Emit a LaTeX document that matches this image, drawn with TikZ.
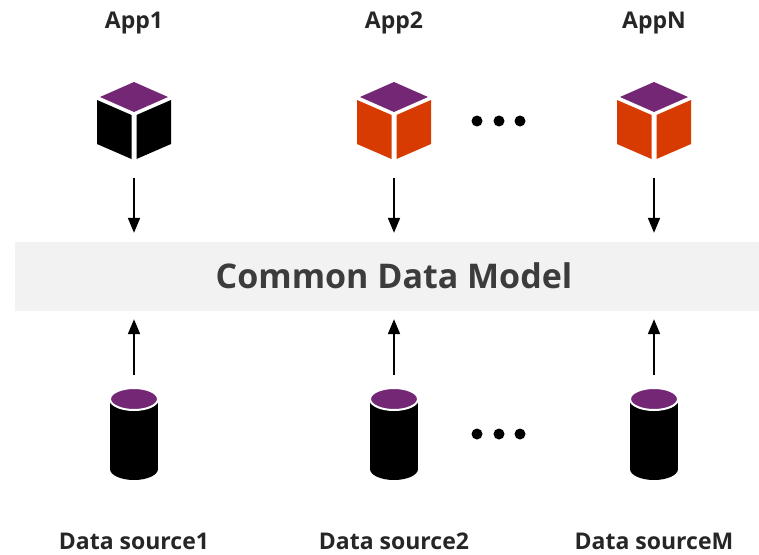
\documentclass[tikz,border=0pt]{standalone}
\usepackage{fontspec}
\setmainfont{Open Sans}
\usetikzlibrary{arrows.meta}
\definecolor{cubepurple}{RGB}{116,39,116}
\definecolor{cubeorange}{RGB}{216,59,1}
\definecolor{bandgrey}{RGB}{242,242,242}
\definecolor{txtgrey}{RGB}{38,38,38}
\tikzset{
  lbl/.style={font=\bfseries\fontsize{23}{27}\selectfont, text=txtgrey, anchor=base, inner sep=0pt},
  cdmtext/.style={font=\bfseries\fontsize{34}{40}\selectfont, text=txtgrey!90!white, anchor=base, inner sep=0pt},
  flow/.style={line width=2pt, -{Triangle[width=12pt,length=15pt]}},
  dot/.style={circle, fill=black, minimum size=11pt, inner sep=0pt},
  holder/.style={inner sep=0pt, outer sep=0pt, minimum width=74pt, minimum height=77pt},
  cylholder/.style={inner sep=0pt, outer sep=0pt, minimum width=48pt, minimum height=92pt},
}
% cube drawn around centre x=#1, with side colour #2
\newcommand{\drawcube}[2]{%
  \fill[cubepurple] (#1,82) -- (#1-34,97) -- (#1,112) -- (#1+34,97) -- cycle;
  \fill[#2] (#1-37,100) -- (#1-2.5,115) -- (#1-2.5,159) -- (#1-37,144) -- cycle;
  \fill[#2] (#1+2.5,115) -- (#1+37,100) -- (#1+37,144) -- (#1+2.5,159) -- cycle;
}
\newcommand{\drawcyl}[1]{%
  \fill[black] (#1-24,399) rectangle (#1+24,469);
  \fill[black] (#1,469) ellipse [x radius=24pt, y radius=11pt];
  \filldraw[fill=cubepurple, draw=white, line width=2pt] (#1,399) ellipse [x radius=24pt, y radius=11pt];
}
\begin{document}
\begin{tikzpicture}[x=1pt,y=-1pt]
\useasboundingbox (0,0) rectangle (759,554);
% band
\node[fill=bandgrey, inner sep=0pt, minimum width=744pt, minimum height=69pt] (band) at (387,276.5) {};
\node[cdmtext] (cdm) at (394,288) {Common Data Model};
% app labels
\node[lbl] (l1) at (134,28) {App1};
\node[lbl] (l2) at (394,28) {App2};
\node[lbl] (l3) at (654,28) {AppN};
% cubes
\node[holder] (c1) at (134,120.5) {};
\node[holder] (c2) at (394,120.5) {};
\node[holder] (c3) at (654,120.5) {};
\drawcube{134}{black}
\drawcube{394}{cubeorange}
\drawcube{654}{cubeorange}
% dots top
\node[dot] (d1) at (477,121) {};
\node[dot] (d2) at (499,121) {};
\node[dot] (d3) at (520,121) {};
% arrows down
\foreach \c in {c1,c2,c3}{
  \draw[flow, shorten <=19pt, shorten >=9pt] (\c.south) -- (\c.south |- band.north);
}
% cylinders
\node[cylholder] (s1) at (134,434) {};
\node[cylholder] (s2) at (394,434) {};
\node[cylholder] (s3) at (654,434) {};
\drawcyl{134}
\drawcyl{394}
\drawcyl{654}
% dots bottom
\node[dot] (e1) at (477,434) {};
\node[dot] (e2) at (499,434) {};
\node[dot] (e3) at (520,434) {};
% arrows up
\foreach \s in {s1,s2,s3}{
  \draw[flow, shorten <=13pt, shorten >=8pt] (\s.north) -- (\s.north |- band.south);
}
% source labels
\node[lbl] (t1) at (134,549) {Data source1};
\node[lbl] (t2) at (394,549) {Data source2};
\node[lbl] (t3) at (654,549) {Data sourceM};
\end{tikzpicture}
\end{document}
